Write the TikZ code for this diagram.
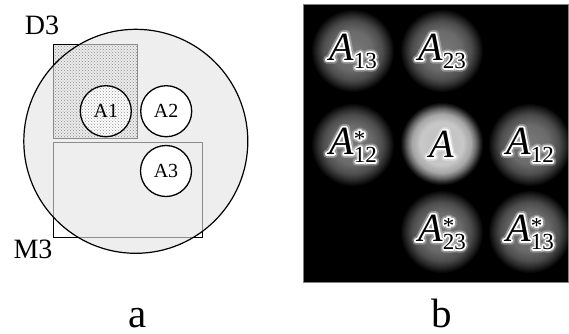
\documentclass[tikz,border=0pt]{standalone}
\usepackage{fontspec}
\setmainfont{Liberation Serif}
\newfontfamily\haloA{Liberation Serif}[FakeBold=9, ItalicFeatures={FakeBold=9}]
\newfontfamily\haloD{Liberation Serif}[FakeBold=15, ItalicFeatures={FakeBold=15}]
\newfontfamily\haloAA{Liberation Serif}[FakeBold=18, ItalicFeatures={FakeBold=18}]
\newfontfamily\haloDD{Liberation Serif}[FakeBold=30, ItalicFeatures={FakeBold=30}]
\usetikzlibrary{patterns}
\newcommand\Alabx[4]{{#1\fontsize{40}{40}\selectfont\itshape A}\kern0.5pt{#2\fontsize{23}{23}\selectfont\rlap{\raisebox{8pt}{#4}}\raisebox{-8pt}{#3}}}
\tikzset{
  lbl/.style={font=\fontsize{28}{28}\selectfont, inner sep=0pt},
  sublbl/.style={font=\fontsize{20}{20}\selectfont, inner sep=0pt},
  caplbl/.style={font=\fontsize{41}{41}\selectfont, inner sep=0pt, anchor=base, text depth=0pt},
  small/.style={draw=black, line width=1.3pt},
  rectin/.style={draw=black!45, line width=1.1pt},
  rectout/.style={draw=black, line width=1.1pt},
  dotfill/.style={pattern=crosshatch dots, pattern color=black!45},
  glowtxt/.style={inner sep=0pt, text=white, line join=round},
}
% glow label: name, position, subscript, superscript
\newcommand\glowlabel[4]{%
  \node[glowtxt, opacity=0.3] (#1s) at (#2) {\Alabx{\haloAA}{\haloDD}{#3}{#4}};
  \node[glowtxt] (#1h) at (#2) {\Alabx{\haloA}{\haloD}{#3}{#4}};
  \node[inner sep=0pt] (#1) at (#2) {\Alabx{\rmfamily}{\rmfamily}{#3}{#4}};
}
\newcommand\dimblob[1]{%
  \foreach \r in {42,41,...,1}{
    \pgfmathsetmacro\k{\r<=20 ? 52+6*\r/20 : (\r<=30 ? 58+12*(\r-20)/10 : (\r<=36 ? 70+14*(\r-30)/6 : (\r<=41 ? 84+13*(\r-36)/5 : 100)))}
    \fill[black!\k] (#1) circle (\r pt);
  }}
\newcommand\brightblob[1]{%
  \foreach \r in {42,41,...,1}{
    \pgfmathsetmacro\k{\r<=22 ? 25-3*\r/22 : (\r<=30 ? 22+13*(\r-22)/8 : (\r<=35 ? 35+25*(\r-30)/5 : (\r<=39 ? 60+25*(\r-35)/4 : 85+15*(\r-39)/3)))}
    \fill[black!\k] (#1) circle (\r pt);
  }}
\begin{document}
\begin{tikzpicture}[x=1pt,y=-1pt]
\useasboundingbox (0,0) rectangle (569,333);
\fill[white] (0,0) rectangle (569,333);
% ---------- panel a ----------
\coordinate (cc) at (135.8,141.3);
\coordinate (d1) at (53.3,44.3); \coordinate (d2) at (137.3,138.3);
\coordinate (m1) at (53.3,142.7); \coordinate (m2) at (202.3,237.7);
\fill[black!8] (d1) rectangle (d2);
\path[dotfill] (d1) rectangle (d2);
\draw[rectout] (d1) rectangle (d2);
\draw[rectout] (m1) rectangle (m2);
\fill[black!6.5] (cc) circle (112pt);
\begin{scope}
  \clip (cc) circle (112pt);
  \fill[black!8] (d1) rectangle (d2);
  \path[dotfill] (d1) rectangle (d2);
  \draw[rectin] (d1) rectangle (d2);
  \draw[rectin] (m1) rectangle (m2);
\end{scope}
\draw[black, line width=1.2pt] (cc) circle (112pt);
\fill[white] (105.8,111.2) circle (25.5pt);
\path[dotfill] (105.8,111.2) circle (25.5pt);
\draw[small] (105.8,111.2) circle (25.5pt);
\node[sublbl] (a1) at (105.8,111.2) {A1};
\draw[small, fill=white] (166.2,111.2) circle (25.5pt);
\node[sublbl] (a2) at (166.2,111.2) {A2};
\draw[small, fill=white] (166,171) circle (25.5pt);
\node[sublbl] (a3) at (166,171) {A3};
\node[lbl] (D3) at (42,25.5) {D3};
\node[lbl] (M3) at (33,249) {M3};
\node[caplbl] (capa) at (138,327) {a};
% ---------- panel b ----------
\fill[black] (303.3,4) rectangle (568.3,282.7);
\coordinate (p13) at (353,51);
\coordinate (p23) at (442,51);
\coordinate (ps12) at (353,145);
\coordinate (pA) at (442,144);
\coordinate (p12) at (530,145);
\coordinate (ps23) at (442,232);
\coordinate (ps13) at (530,232);
\begin{scope}
  \clip (303.3,4) rectangle (568.3,282.7);
  \dimblob{p13}\dimblob{p23}\dimblob{ps12}\dimblob{p12}\dimblob{ps23}\dimblob{ps13}
  \brightblob{pA}
\end{scope}
\draw[black!50, line width=0.8pt] (303.3,4) rectangle (568.3,282.7);
\glowlabel{t13}{p13}{13}{}
\glowlabel{t23}{p23}{23}{}
\glowlabel{ts12}{ps12}{12}{*}
\node[glowtxt, opacity=0.3] (tAs) at (pA) {\haloAA\fontsize{40}{40}\selectfont\itshape A};
\node[glowtxt] (tAh) at (pA) {\haloA\fontsize{40}{40}\selectfont\itshape A};
\node[inner sep=0pt] (tA) at (pA) {\fontsize{40}{40}\selectfont\itshape A};
\glowlabel{t12}{p12}{12}{}
\glowlabel{ts23}{ps23}{23}{*}
\glowlabel{ts13}{ps13}{13}{*}
\node[caplbl] (capb) at (441.7,327) {b};
\end{tikzpicture}
\end{document}
